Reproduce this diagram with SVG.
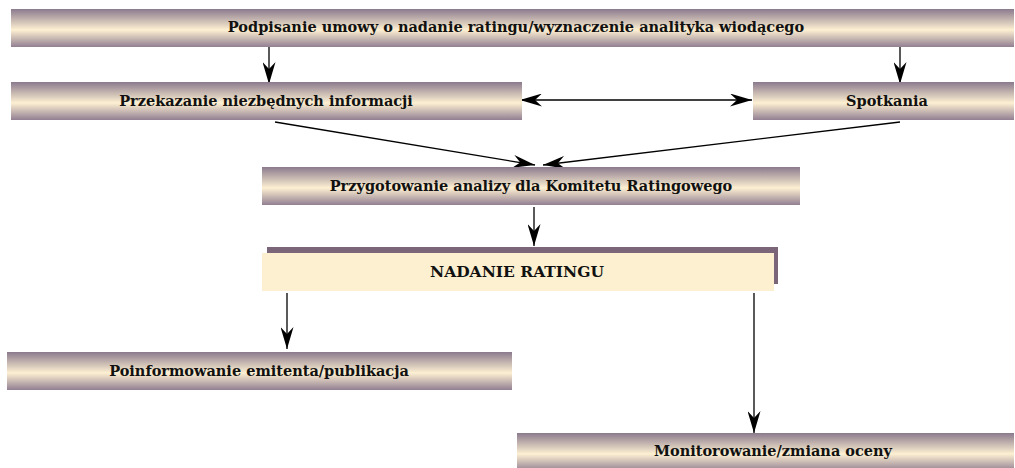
<svg xmlns="http://www.w3.org/2000/svg" width="1015" height="468" viewBox="0 0 1015 468">
<defs>
<linearGradient id="bar" x1="0" y1="0" x2="0" y2="1">
<stop offset="0" stop-color="#8b7a8d"/>
<stop offset="0.55" stop-color="#fdf0d2"/>
<stop offset="1" stop-color="#927f92"/>
</linearGradient>
<marker id="ah" viewBox="0 0 22 13" refX="22" refY="6.5" markerWidth="22" markerHeight="13" markerUnits="userSpaceOnUse" orient="auto-start-reverse">
<path d="M0,0 L22,6.5 L0,13 L7,6.5 z" fill="#000"/>
</marker>
<style>
.box{fill:url(#bar);}
.t{font-family:"DejaVu Serif","Liberation Serif",serif;font-weight:bold;font-size:14.5px;fill:#111;text-anchor:middle;}
.c{stroke:#000;stroke-width:1.3;fill:none;marker-end:url(#ah);}
</style>
</defs>
<g id="connectors">
<line class="c" x1="269" y1="47" x2="269" y2="84"/>
<line class="c" x1="900" y1="47" x2="900" y2="84"/>
<line class="c" x1="520" y1="100" x2="752" y2="100" style="marker-start:url(#ah)"/>
<line class="c" x1="275" y1="122" x2="535" y2="165"/>
<line class="c" x1="900" y1="122" x2="543" y2="165"/>
<line class="c" x1="534" y1="207" x2="534" y2="246"/>
<line class="c" x1="287" y1="293" x2="287" y2="349"/>
<line class="c" x1="754" y1="293" x2="754" y2="433"/>
</g>
<g id="n1"><rect class="box" x="11" y="9" width="1003" height="38"/><text class="t" x="516" y="32">Podpisanie umowy o nadanie ratingu/wyznaczenie analityka wiodącego</text></g>
<g id="n2"><rect class="box" x="11" y="82" width="511" height="38"/><text class="t" x="266" y="106">Przekazanie niezbędnych informacji</text></g>
<g id="n3"><rect class="box" x="753" y="82" width="261" height="38"/><text class="t" x="887" y="106">Spotkania</text></g>
<g id="n4"><rect class="box" x="262" y="167" width="538" height="38"/><text class="t" x="531" y="191">Przygotowanie analizy dla Komitetu Ratingowego</text></g>
<g id="n5"><rect x="267" y="247" width="511" height="37" fill="#7b6679"/><rect x="262" y="253" width="512" height="38" fill="#fdf0d0"/><text class="t" x="517" y="277" style="font-size:15.5px">NADANIE RATINGU</text></g>
<g id="n6"><rect class="box" x="7" y="352" width="505" height="38"/><text class="t" x="259" y="376">Poinformowanie emitenta/publikacja</text></g>
<g id="n7"><rect class="box" x="517" y="433" width="497" height="38"/><text class="t" x="773" y="456">Monitorowanie/zmiana oceny</text></g>
</svg>
